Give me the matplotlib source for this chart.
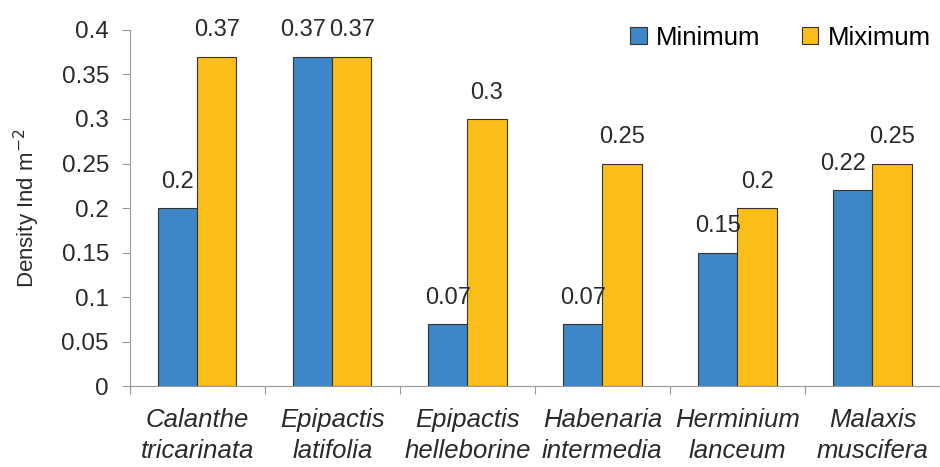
import numpy as np
import matplotlib.pyplot as plt

plt.rcParams['font.family'] = ['Liberation Sans', 'DejaVu Sans']

species = ['Calanthe\ntricarinata', 'Epipactis\nlatifolia', 'Epipactis\nhelleborine',
           'Habenaria\nintermedia', 'Herminium\nlanceum', 'Malaxis\nmuscifera']
minimum = [0.2, 0.37, 0.07, 0.07, 0.15, 0.22]
maximum = [0.37, 0.37, 0.3, 0.25, 0.2, 0.25]

blue = '#3d87c8'
yellow = '#fbbd17'
txt = '#2a2a2a'

fig = plt.figure(figsize=(9.4, 4.67), dpi=100)
ax = fig.add_axes([0.138, 0.173, 0.862, 0.763])

x = np.arange(len(species))
w = 0.29
b1 = ax.bar(x - w / 2, minimum, w, color=blue, edgecolor='#333333', linewidth=0.8, label='Minimum')
b2 = ax.bar(x + w / 2, maximum, w, color=yellow, edgecolor='#333333', linewidth=0.8, label='Miximum')

# value labels; when both bars are about the same height push the left one aside
for i in range(len(species)):
    lo, hi = minimum[i], maximum[i]
    if abs(hi - lo) < 0.04:
        ax.text(x[i] - 0.045, lo + 0.017, f'{lo:g}', ha='right', va='bottom', fontsize=17, color=txt)
    else:
        ax.text(x[i] - w / 2, lo + 0.017, f'{lo:g}', ha='center', va='bottom', fontsize=17, color=txt)
    ax.text(x[i] + w / 2, hi + 0.017, f'{hi:g}', ha='center', va='bottom', fontsize=17, color=txt)

ax.set_xlim(-0.5, len(species) - 0.5)
ax.set_ylim(0, 0.4)
ax.set_yticks(np.arange(0, 0.41, 0.05))
ax.set_yticklabels(['0', '0.05', '0.1', '0.15', '0.2', '0.25', '0.3', '0.35', '0.4'])
ax.set_xticks(np.arange(len(species) + 1) - 0.5)
ax.set_xticklabels([])
ax.set_xticks(x, minor=True)
ax.set_xticklabels(species, minor=True, style='italic', fontsize=18.5, color=txt, linespacing=1.35)
ax.tick_params(axis='x', which='minor', length=0, pad=16)
ax.tick_params(axis='x', which='major', length=6, color='#999999', direction='out')
ax.tick_params(axis='y', length=6, color='#999999', labelsize=17.5, labelcolor=txt, pad=9)

for s in ('top', 'right'):
    ax.spines[s].set_visible(False)
for s in ('left', 'bottom'):
    ax.spines[s].set_color('#999999')

ax.set_ylabel('Density Ind m$^{-2}$', fontsize=16, color=txt, labelpad=14)

fig.legend(handles=[b1, b2], loc='center right', bbox_to_anchor=(0.99, 0.919), ncol=2, frameon=False,
           fontsize=18.5, handlelength=0.65, handleheight=0.65, columnspacing=1.6, handletextpad=0.35,
           borderpad=0, borderaxespad=0)

fig.savefig('out.png', dpi=100)
